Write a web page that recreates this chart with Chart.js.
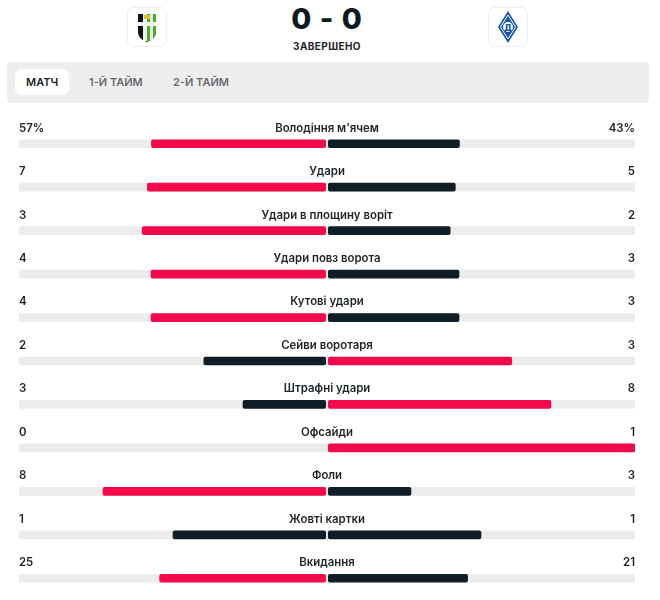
<!DOCTYPE html>
<html>
<head>
<meta charset="utf-8">
<script src="https://cdn.jsdelivr.net/npm/chart.js@4/dist/chart.umd.min.js"></script>
<style>
  body { margin: 0; background: #fff; font-family: Inter, "Noto Sans", sans-serif; }
  #wrap { position: relative; width: 660px; height: 600px; overflow: hidden; }
  .logo { position: absolute; top: 7px; width: 38px; height: 38px; border: 1px solid #eeeeee; border-radius: 7px; background: #fff; }
  .logo svg { position: absolute; left: 0; top: 0; }
  #score { position: absolute; left: 0; width: 654px; top: 1px; text-align: center; font-size: 29px; font-weight: 800; color: #0e1a21; letter-spacing: 1px; }
  #status { position: absolute; left: 0; width: 654px; top: 40px; text-align: center; font-size: 10px; font-weight: 700; color: #1d2327; letter-spacing: 0.4px; }
  #tabs { position: absolute; left: 7px; top: 62px; width: 642px; height: 41px; background: #eeeeee; border-radius: 3px; }
  .tab { position: absolute; top: 7px; height: 26px; line-height: 26px; font-size: 11px; font-weight: 600; color: #666b6f; }
  .tab.on { background: #fff; color: #1d2327; border-radius: 7px; padding: 0 11px; }
  canvas { position: absolute; left: 0; top: 0; }
</style>
</head>
<body>
<div id="wrap">
  <div id="tabs">
    <div class="tab on" style="left:8px">МАТЧ</div>
    <div class="tab" style="left:82px">1-Й ТАЙМ</div>
    <div class="tab" style="left:166px">2-Й ТАЙМ</div>
  </div>
  <div class="logo" style="left:127px">
    <svg width="38" height="38" viewBox="0 0 38 38">
      <path d="M10 6 H28 V24 Q28 31 19 34 Q10 31 10 24 Z" fill="#111"/>
      <path d="M19 6 H28 V24 Q28 31 19 34 Z" fill="#4caf2e"/>
      <rect x="15" y="6" width="4" height="27" fill="#f2f2f2"/>
      <rect x="22" y="6" width="3" height="27" fill="#e8e8e8"/>
      <rect x="10" y="14" width="18" height="4" fill="#f4f4f4"/>
      <rect x="16" y="7" width="6" height="4" fill="#d8c22a"/>
    </svg>
  </div>
  <div id="score">0 - 0</div>
  <div id="status">ЗАВЕРШЕНО</div>
  <div class="logo" style="left:488px">
    <svg width="38" height="38" viewBox="0 0 38 38">
      <path d="M19 3 L29 19 L19 35 L9 19 Z" fill="#1b55a8"/>
      <path d="M19 7 L26.5 19 L19 31 L11.5 19 Z" fill="none" stroke="#fff" stroke-width="1"/>
      <circle cx="19" cy="19" r="5" fill="#fff"/>
      <text x="19" y="22.5" font-size="9" font-weight="700" text-anchor="middle" fill="#1b55a8" font-family="DejaVu Sans">Д</text>
    </svg>
  </div>
  <canvas id="c" width="660" height="600"></canvas>
</div>
<script>
const categories = ["Володіння м'ячем", 'Удари', 'Удари в площину воріт', 'Удари повз ворота', 'Кутові удари',
  'Сейви воротаря', 'Штрафні удари', 'Офсайди', 'Фоли', 'Жовті картки', 'Вкидання'];
const homeValues = [57, 7, 3, 4, 4, 2, 3, 0, 8, 1, 25];
const awayValues = [43, 5, 2, 3, 3, 3, 8, 1, 3, 1, 21];
const valueSuffix = ['%', '', '', '', '', '', '', '', '', '', ''];

const RED = '#f20a4a';
const DARK = '#0f1e27';
const TRACK = '#ececec';
const GAP = 0.0042; // half of the small gap at the centre, in axis units

function share(a, b) { return (a + b) ? a / (a + b) : 0; }

const leftData = homeValues.map((h, i) => h ? [-GAP, -share(h, awayValues[i])] : null);
const rightData = awayValues.map((a, i) => a ? [GAP, share(a, homeValues[i])] : null);
const leftColors = homeValues.map((h, i) => h > awayValues[i] ? RED : DARK);
const rightColors = awayValues.map((a, i) => a > homeValues[i] ? RED : DARK);

const textPlugin = {
  id: 'statText',
  afterDatasetsDraw(chart) {
    const ctx = chart.ctx;
    const y = chart.scales.y;
    const area = chart.chartArea;
    const mid = (area.left + area.right) / 2;
    ctx.save();
    ctx.fillStyle = '#1d2327';
    ctx.font = '600 11.4px Inter, "Noto Sans", sans-serif';
    ctx.textBaseline = 'middle';
    categories.forEach((name, i) => {
      const ty = y.getPixelForValue(i) - 15.5;
      ctx.textAlign = 'left';
      ctx.fillText(homeValues[i] + valueSuffix[i], area.left, ty);
      ctx.textAlign = 'right';
      ctx.fillText(awayValues[i] + valueSuffix[i], area.right, ty);
      ctx.textAlign = 'center';
      ctx.fillText(name, mid, ty);
    });
    ctx.restore();
  }
};

new Chart(document.getElementById('c'), {
  type: 'bar',
  data: {
    labels: categories,
    datasets: [
      { data: leftData, backgroundColor: leftColors, order: 0 },
      { data: rightData, backgroundColor: rightColors, order: 0 },
      { data: categories.map(() => [-1, 1]), backgroundColor: TRACK, order: 2 }
    ]
  },
  options: {
    indexAxis: 'y',
    responsive: false,
    animation: false,
    layout: { padding: { top: 122, left: 19, right: 25, bottom: 0 } },
    datasets: {
      bar: { grouped: false, barThickness: 8, borderRadius: 2, borderSkipped: false }
    },
    scales: {
      x: { min: -1, max: 1, display: false },
      y: { display: false }
    },
    plugins: { legend: { display: false }, tooltip: { enabled: false } }
  },
  plugins: [textPlugin]
});
</script>
</body>
</html>
